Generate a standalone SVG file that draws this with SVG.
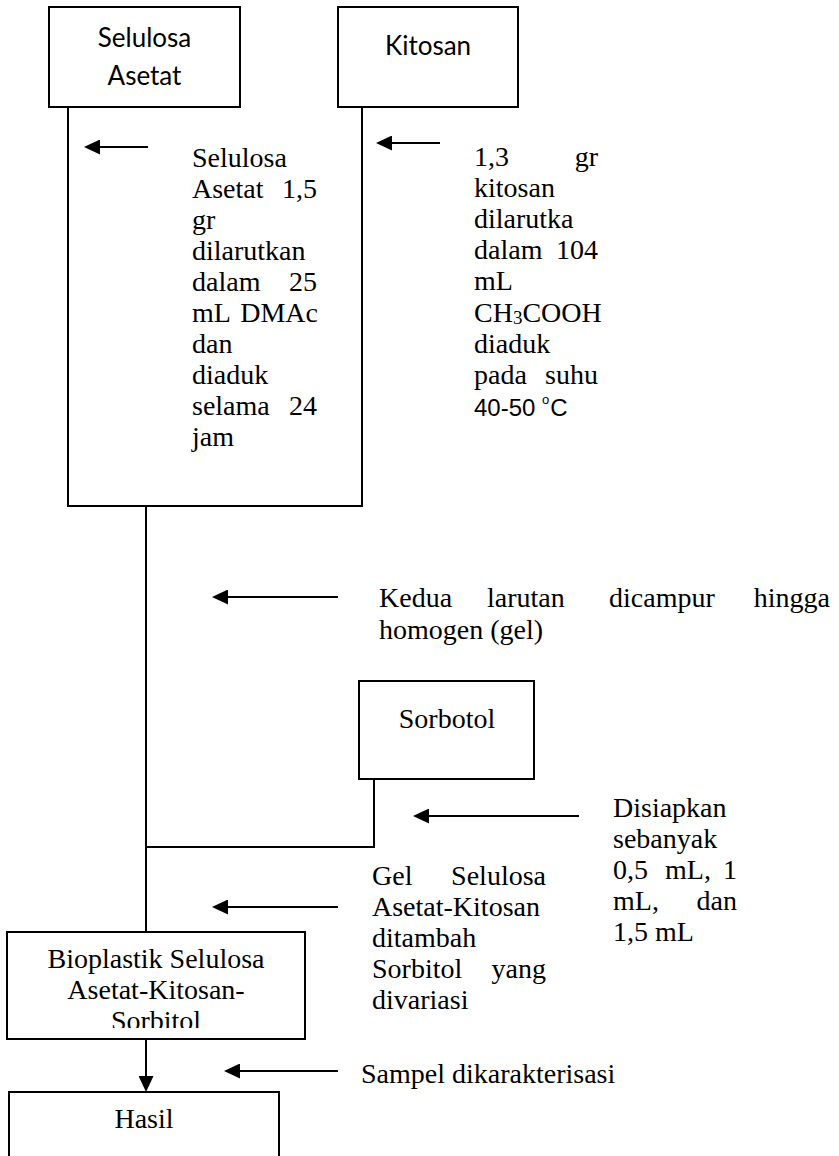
<svg xmlns="http://www.w3.org/2000/svg" width="839" height="1156" viewBox="0 0 839 1156">
  <style>
    .box { fill: #fff; stroke: #000; stroke-width: 2; }
    .ln { fill: none; stroke: #000; stroke-width: 2; }
    .sans { font-family: Lato, "Liberation Sans", sans-serif; font-size: 26px; fill: #000; }
    .ser { font-family: "Liberation Serif", serif; font-size: 28px; fill: #000; }
    .deg { font-family: "Liberation Sans", sans-serif; font-size: 24px; fill: #000; }
    .mid { text-anchor: middle; }
    .end { text-anchor: end; }
  </style>
  <defs>
    <marker id="ah" viewBox="0 0 16 15" refX="0" refY="7.5" markerWidth="16" markerHeight="15" markerUnits="userSpaceOnUse" orient="auto">
      <path d="M0,0 L16,7.5 L0,15 Z" fill="#000"/>
    </marker>
    <clipPath id="bioclip"><rect x="0" y="932" width="320" height="96"/></clipPath>
  </defs>

  <g id="connectors">
    <path class="ln" d="M68,107 V506 H362 V107"/>
    <path class="ln" d="M146,506 V932"/>
    <path class="ln" d="M374,779 V847 H146"/>
    <path class="ln" d="M146,1039 V1076" marker-end="url(#ah)"/>
    <path class="ln" d="M148,147 H100" marker-end="url(#ah)"/>
    <path class="ln" d="M440,143 H392" marker-end="url(#ah)"/>
    <path class="ln" d="M338,597 H228" marker-end="url(#ah)"/>
    <path class="ln" d="M579,816 H429" marker-end="url(#ah)"/>
    <path class="ln" d="M338,907 H228" marker-end="url(#ah)"/>
    <path class="ln" d="M338,1071 H240" marker-end="url(#ah)"/>
  </g>

  <g id="node-selulosa-asetat">
    <rect class="box" x="49" y="7" width="191" height="100"/>
    <text class="sans mid" x="144.5" y="47">Selulosa</text>
    <text class="sans mid" x="144.5" y="85">Asetat</text>
  </g>

  <g id="node-kitosan">
    <rect class="box" x="338" y="7" width="180" height="100"/>
    <text class="sans mid" x="428" y="55">Kitosan</text>
  </g>

  <g id="label-selulosa">
    <text class="ser" x="192" y="167">Selulosa</text>
    <text class="ser" x="192" y="198">Asetat</text><text class="ser end" x="317" y="198">1,5</text>
    <text class="ser" x="192" y="229">gr</text>
    <text class="ser" x="192" y="260">dilarutkan</text>
    <text class="ser" x="192" y="291">dalam</text><text class="ser end" x="317" y="291">25</text>
    <text class="ser" x="192" y="322">mL</text><text class="ser end" x="318" y="322">DMAc</text>
    <text class="ser" x="192" y="353">dan</text>
    <text class="ser" x="192" y="384">diaduk</text>
    <text class="ser" x="192" y="415">selama</text><text class="ser end" x="317" y="415">24</text>
    <text class="ser" x="192" y="446">jam</text>
  </g>

  <g id="label-kitosan">
    <text class="ser" x="474" y="166">1,3</text><text class="ser end" x="598" y="166">gr</text>
    <text class="ser" x="474" y="197">kitosan</text>
    <text class="ser" x="474" y="228">dilarutka</text>
    <text class="ser" x="474" y="259">dalam</text><text class="ser end" x="598" y="259">104</text>
    <text class="ser" x="474" y="290">mL</text>
    <text class="ser" x="474" y="322">CH<tspan font-size="19" dy="2">3</tspan><tspan dy="-2">COOH</tspan></text>
    <text class="ser" x="474" y="353">diaduk</text>
    <text class="ser" x="474" y="384">pada</text><text class="ser end" x="598" y="384">suhu</text>
    <text class="deg" x="474" y="416">40-50 <tspan font-size="13" dy="-12">o</tspan><tspan dy="12" dx="1">C</tspan></text>
  </g>

  <g id="label-kedua">
    <text class="ser" x="379" y="607">Kedua</text>
    <text class="ser" x="487" y="607">larutan</text>
    <text class="ser" x="609" y="607">dicampur</text>
    <text class="ser end" x="830" y="607">hingga</text>
    <text class="ser" x="379" y="639">homogen (gel)</text>
  </g>

  <g id="node-sorbotol">
    <rect class="box" x="359" y="681" width="175" height="98"/>
    <text class="ser mid" x="447" y="728">Sorbotol</text>
  </g>

  <g id="label-disiapkan">
    <text class="ser" x="613" y="817">Disiapkan</text>
    <text class="ser" x="613" y="848">sebanyak</text>
    <text class="ser" x="613" y="879">0,5</text><text class="ser" x="665" y="879">mL,</text><text class="ser end" x="737" y="879">1</text>
    <text class="ser" x="613" y="910">mL,</text><text class="ser end" x="737" y="910">dan</text>
    <text class="ser" x="613" y="941">1,5 mL</text>
  </g>

  <g id="label-gel">
    <text class="ser" x="372" y="885">Gel</text><text class="ser end" x="546" y="885">Selulosa</text>
    <text class="ser" x="372" y="916">Asetat-Kitosan</text>
    <text class="ser" x="372" y="947">ditambah</text>
    <text class="ser" x="372" y="978">Sorbitol</text><text class="ser end" x="546" y="978">yang</text>
    <text class="ser" x="372" y="1009">divariasi</text>
  </g>

  <g id="node-bioplastik">
    <rect class="box" x="7" y="932" width="298" height="107"/>
    <g clip-path="url(#bioclip)">
      <text class="ser mid" x="156" y="968">Bioplastik Selulosa</text>
      <text class="ser mid" x="156" y="999">Asetat-Kitosan-</text>
      <text class="ser mid" x="156" y="1030">Sorbitol</text>
    </g>
  </g>

  <g id="label-sampel">
    <text class="ser" x="361" y="1083">Sampel dikarakterisasi</text>
  </g>

  <g id="node-hasil">
    <rect class="box" x="9" y="1092" width="270" height="90"/>
    <text class="ser mid" x="144" y="1128">Hasil</text>
  </g>
</svg>
